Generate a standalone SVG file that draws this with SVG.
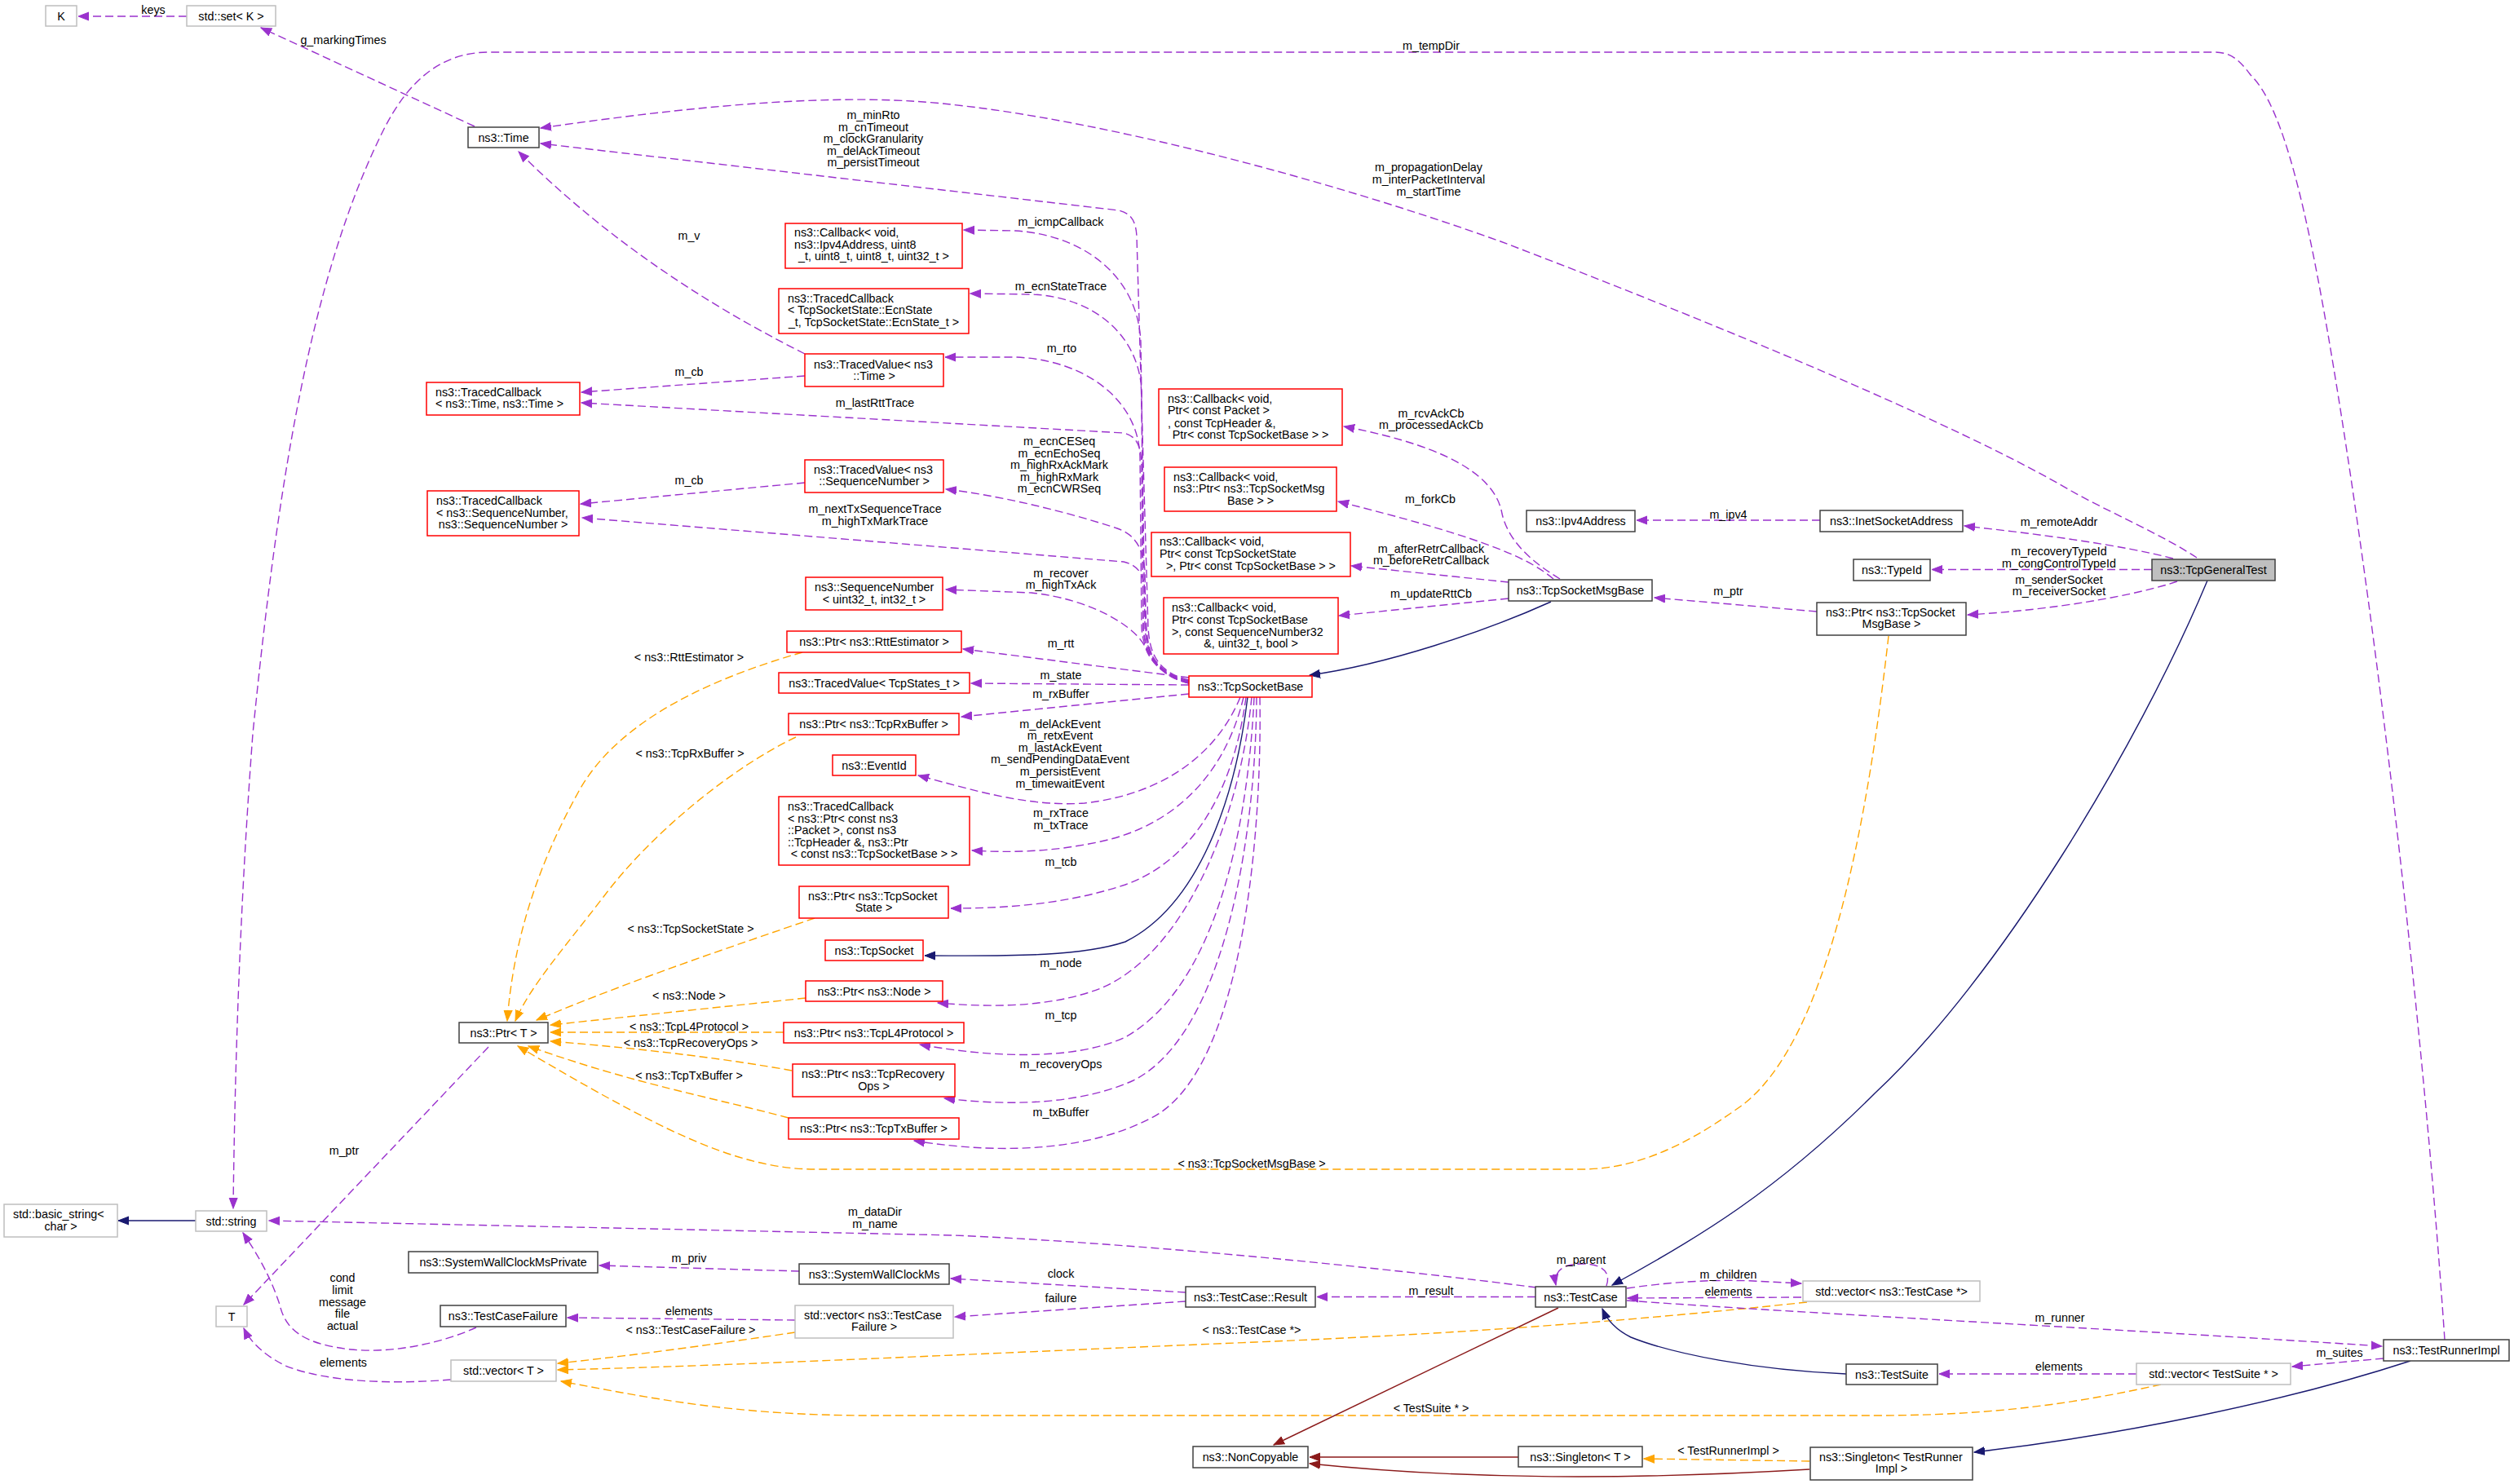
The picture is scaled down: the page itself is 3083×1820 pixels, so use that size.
<svg xmlns="http://www.w3.org/2000/svg" width="3083" height="1820" viewBox="0 0 3083 1820" xml:space="preserve">
<style>
.t{font-family:"Liberation Sans",Arial,sans-serif;font-size:14.3px;fill:#000}
.c{text-anchor:middle}
.red{fill:#fff;stroke:#ff0000;stroke-width:1.5}
.blk{fill:#fff;stroke:#404040;stroke-width:1.5}
.gry{fill:#fff;stroke:#bfbfbf;stroke-width:1.5}
.cur{fill:#bfbfbf;stroke:#404040;stroke-width:1.5}
.u{fill:none;stroke:#9a32cd;stroke-width:1.4;stroke-dasharray:10,5;marker-end:url(#ap)}
.o{fill:none;stroke:#ffa500;stroke-width:1.4;stroke-dasharray:10,5;marker-end:url(#ao)}
.n{fill:none;stroke:#191970;stroke-width:1.4;marker-end:url(#an)}
.r{fill:none;stroke:#8b1a1a;stroke-width:1.4;marker-end:url(#ar)}
</style>
<defs>
<marker id="ap" markerUnits="userSpaceOnUse" markerWidth="14" markerHeight="12" refX="13" refY="6" orient="auto" viewBox="0 0 14 12"><path d="M0,1 L13,6 L0,11 z" fill="#9a32cd" stroke="#9a32cd"/></marker>
<marker id="ao" markerUnits="userSpaceOnUse" markerWidth="14" markerHeight="12" refX="13" refY="6" orient="auto" viewBox="0 0 14 12"><path d="M0,1 L13,6 L0,11 z" fill="#ffa500" stroke="#ffa500"/></marker>
<marker id="an" markerUnits="userSpaceOnUse" markerWidth="14" markerHeight="12" refX="13" refY="6" orient="auto" viewBox="0 0 14 12"><path d="M0,1 L13,6 L0,11 z" fill="#191970" stroke="#191970"/></marker>
<marker id="ar" markerUnits="userSpaceOnUse" markerWidth="14" markerHeight="12" refX="13" refY="6" orient="auto" viewBox="0 0 14 12"><path d="M0,1 L13,6 L0,11 z" fill="#8b1a1a" stroke="#8b1a1a"/></marker>
</defs>
<rect width="3083" height="1820" fill="#fff"/>
<g id="edges">
<path class="u" d="M229,20 L96,20"/>
<path class="u" d="M582,155 L320,34"/>
<path class="u" d="M2998,1643 C2975,1300 2920,800 2860,440 C2830,260 2800,130 2760,92 C2745,72 2735,64 2715,64 L600,64 C540,64 500,100 470,160 C380,340 340,600 310,900 C295,1100 288,1300 286,1482"/>
<path class="u" d="M2694,684 C2650,655 2590,630 2540,602 C2400,520 2100,395 1840,296 C1600,210 1300,135 1118,124 C1000,117 850,130 663,157"/>
<path class="u" d="M1458,834 C1418,824 1410,800 1408,770 L1394,290 C1393,272 1388,262 1372,258 L663,176"/>
<path class="u" d="M1458,835 C1418,825 1406,800 1404,770 L1399,420 C1396,340 1330,288 1245,283 L1182,282"/>
<path class="u" d="M1458,836 C1418,826 1404,800 1402,770 L1400,480 C1397,410 1340,364 1265,361 L1190,360"/>
<path class="u" d="M1458,837 C1418,827 1402,800 1400,770 L1398,560 C1396,490 1330,441 1245,438 L1159,438"/>
<path class="u" d="M1458,836 C1416,826 1404,800 1402,770 L1400,570 C1399,548 1395,535 1378,531 L713,494"/>
<path class="u" d="M1458,838 C1416,828 1406,800 1405,770 L1404,700 C1402,670 1390,655 1370,648 C1300,625 1220,607 1160,600"/>
<path class="u" d="M1458,838 C1416,828 1408,800 1406,770 L1404,725 C1403,705 1396,693 1378,689 L714,635"/>
<path class="u" d="M1458,838 C1430,830 1412,815 1405,795 C1395,770 1340,735 1265,727 L1160,723"/>
<path class="u" d="M1458,831 L1181,796"/>
<path class="u" d="M1458,840 L1191,838"/>
<path class="u" d="M1458,851 L1179,879"/>
<path class="u" d="M1521,855 C1490,930 1420,975 1330,985 C1260,990 1190,968 1126,951"/>
<path class="u" d="M1525,855 C1500,960 1430,1015 1350,1032 C1290,1045 1240,1046 1192,1043"/>
<path class="u" d="M1528,855 C1510,990 1450,1060 1380,1085 C1310,1108 1240,1114 1166,1114"/>
<path class="n" d="M1530,855 C1515,980 1470,1110 1380,1155 C1320,1175 1220,1172 1134,1172"/>
<path class="u" d="M1535,855 C1520,1010 1450,1170 1350,1212 C1290,1235 1220,1236 1150,1230"/>
<path class="u" d="M1538,855 C1530,1020 1490,1210 1380,1272 C1320,1300 1220,1298 1128,1281"/>
<path class="u" d="M1541,855 C1540,1030 1500,1270 1390,1325 C1330,1352 1250,1358 1158,1347"/>
<path class="u" d="M1545,855 C1548,1040 1520,1320 1410,1372 C1340,1408 1240,1418 1121,1399"/>
<path class="u" d="M987,434 Q780,330 636,186"/>
<path class="u" d="M987,461 L713,481"/>
<path class="u" d="M987,592 L712,618"/>
<path class="u" d="M1913,710 C1880,690 1850,665 1842,630 C1835,590 1790,550 1648,523"/>
<path class="u" d="M1905,710 C1870,680 1800,655 1641,615"/>
<path class="u" d="M1850,714 L1657,694"/>
<path class="u" d="M1850,734 L1642,755"/>
<path class="n" d="M1902,738 C1820,775 1700,815 1606,828"/>
<path class="u" d="M2228,750 L2029,733"/>
<path class="u" d="M2232,638 L2007,638"/>
<path class="u" d="M2665,685 C2600,668 2500,655 2409,645"/>
<path class="u" d="M2639,698.5 L2369,698.5"/>
<path class="u" d="M2670,713 C2620,730 2520,748 2413,754"/>
<path class="n" d="M2707,712 C2620,920 2450,1200 2300,1340 C2180,1460 2080,1520 1977,1576"/>
<path class="o" d="M2316,780 C2280,1100 2220,1300 2130,1360 C2060,1410 2000,1434 1940,1434 L1000,1434 C900,1434 800,1380 635,1283"/>
<path class="o" d="M984,800 C880,830 760,880 710,970 C660,1060 630,1150 622,1252"/>
<path class="o" d="M976,904 C900,940 800,1020 740,1100 C690,1165 650,1210 632,1252"/>
<path class="o" d="M999,1126 C900,1160 780,1200 658,1251"/>
<path class="o" d="M988,1224 L675,1257"/>
<path class="o" d="M961,1266 L675,1266"/>
<path class="o" d="M971,1313 C900,1300 800,1287 675,1277"/>
<path class="o" d="M967,1371 C870,1345 780,1330 648,1283"/>
<path class="o" d="M975,1634 C880,1648 780,1662 684,1672"/>
<path class="o" d="M2216,1597 C2000,1620 1800,1635 1540,1646 C1200,1660 900,1675 684,1680"/>
<path class="o" d="M2650,1698 C2550,1720 2450,1736 2300,1736 L1070,1736 C900,1736 800,1715 688,1694"/>
<path class="o" d="M2219,1792 L2016,1789"/>
<path class="n" d="M240,1497 L145,1497"/>
<path class="n" d="M2264,1685 C2150,1680 2050,1660 2000,1640 C1980,1630 1970,1617 1965,1605"/>
<path class="n" d="M2956,1669 C2800,1720 2600,1760 2421,1781"/>
<path class="r" d="M1911,1604 L1562,1772"/>
<path class="r" d="M1862,1787 L1606,1787"/>
<path class="r" d="M2219,1802 C2000,1815 1800,1815 1606,1795"/>
<path class="u" d="M1884,1579 C1700,1555 1400,1525 1170,1515 L330,1497"/>
<path class="u" d="M980,1559 L735,1552"/>
<path class="u" d="M1454,1585 L1166,1568"/>
<path class="u" d="M1454,1596 L1171,1615"/>
<path class="u" d="M975,1619 L696,1616"/>
<path class="u" d="M584,1628 C540,1648 480,1660 430,1655 C370,1648 350,1630 343,1600 C330,1560 310,1530 298,1512"/>
<path class="u" d="M553,1692 C480,1698 400,1695 350,1675 C320,1660 305,1642 299,1629"/>
<path class="u" d="M599,1284 L299,1600"/>
<path class="u" d="M1883,1590.5 L1615,1590.5"/>
<path class="u" d="M1970,1577 C1976,1560 1965,1550 1940,1550 C1915,1550 1905,1560 1908,1576"/>
<path class="u" d="M1995,1580 C2050,1572 2100,1569 2150,1571 L2209,1574"/>
<path class="u" d="M2209,1591 L1996,1592"/>
<path class="u" d="M1995,1595 C2200,1610 2600,1630 2921,1651"/>
<path class="u" d="M2923,1666 L2811,1676"/>
<path class="u" d="M2620,1685 L2378,1685"/>
</g>
<g id="labels" class="t c">
<text x="188" y="17">keys</text>
<text x="421" y="54">g_markingTimes</text>
<text x="1755" y="61">m_tempDir</text>
<text x="1752" y="210">m_propagationDelay</text>
<text x="1752" y="224.5">m_interPacketInterval</text>
<text x="1752" y="239.5">m_startTime</text>
<text x="1071" y="146">m_minRto</text>
<text x="1071" y="160.5">m_cnTimeout</text>
<text x="1071" y="175">m_clockGranularity</text>
<text x="1071" y="189.5">m_delAckTimeout</text>
<text x="1071" y="204">m_persistTimeout</text>
<text x="845" y="294">m_v</text>
<text x="1301" y="277">m_icmpCallback</text>
<text x="1301" y="356">m_ecnStateTrace</text>
<text x="1302" y="432">m_rto</text>
<text x="845" y="461">m_cb</text>
<text x="1073" y="499">m_lastRttTrace</text>
<text x="1299" y="546">m_ecnCESeq</text>
<text x="1299" y="560.5">m_ecnEchoSeq</text>
<text x="1299" y="575">m_highRxAckMark</text>
<text x="1299" y="589.5">m_highRxMark</text>
<text x="1299" y="604">m_ecnCWRSeq</text>
<text x="845" y="594">m_cb</text>
<text x="1073" y="629">m_nextTxSequenceTrace</text>
<text x="1073" y="644">m_highTxMarkTrace</text>
<text x="1301" y="708">m_recover</text>
<text x="1301" y="722">m_highTxAck</text>
<text x="1301" y="794">m_rtt</text>
<text x="1301" y="833">m_state</text>
<text x="1301" y="856">m_rxBuffer</text>
<text x="1300" y="892.5">m_delAckEvent</text>
<text x="1300" y="907">m_retxEvent</text>
<text x="1300" y="921.5">m_lastAckEvent</text>
<text x="1300" y="936">m_sendPendingDataEvent</text>
<text x="1300" y="951">m_persistEvent</text>
<text x="1300" y="965.5">m_timewaitEvent</text>
<text x="1301" y="1002">m_rxTrace</text>
<text x="1301" y="1016.5">m_txTrace</text>
<text x="1301" y="1062">m_tcb</text>
<text x="1301" y="1185.5">m_node</text>
<text x="1301" y="1250">m_tcp</text>
<text x="1301" y="1309.5">m_recoveryOps</text>
<text x="1301" y="1369">m_txBuffer</text>
<text x="845" y="811">&lt; ns3::RttEstimator &gt;</text>
<text x="846" y="929">&lt; ns3::TcpRxBuffer &gt;</text>
<text x="847" y="1143.5">&lt; ns3::TcpSocketState &gt;</text>
<text x="845" y="1225.5">&lt; ns3::Node &gt;</text>
<text x="845" y="1263.5">&lt; ns3::TcpL4Protocol &gt;</text>
<text x="847" y="1284">&lt; ns3::TcpRecoveryOps &gt;</text>
<text x="845" y="1324">&lt; ns3::TcpTxBuffer &gt;</text>
<text x="1535" y="1432">&lt; ns3::TcpSocketMsgBase &gt;</text>
<text x="1755" y="511.5">m_rcvAckCb</text>
<text x="1755" y="525.5">m_processedAckCb</text>
<text x="1754" y="617">m_forkCb</text>
<text x="1755" y="677.5">m_afterRetrCallback</text>
<text x="1755" y="692">m_beforeRetrCallback</text>
<text x="1755" y="733">m_updateRttCb</text>
<text x="2119.5" y="636">m_ipv4</text>
<text x="2119.5" y="730">m_ptr</text>
<text x="2525" y="644.5">m_remoteAddr</text>
<text x="2525" y="680.5">m_recoveryTypeId</text>
<text x="2525" y="695.5">m_congControlTypeId</text>
<text x="2525" y="715.5">m_senderSocket</text>
<text x="2525" y="730">m_receiverSocket</text>
<text x="422" y="1416">m_ptr</text>
<text x="420" y="1572">cond</text>
<text x="420" y="1587">limit</text>
<text x="420" y="1602">message</text>
<text x="420" y="1616">file</text>
<text x="420" y="1631">actual</text>
<text x="421" y="1676">elements</text>
<text x="1073" y="1491">m_dataDir</text>
<text x="1073" y="1505.5">m_name</text>
<text x="845" y="1548">m_priv</text>
<text x="1301" y="1567">clock</text>
<text x="1301" y="1597">failure</text>
<text x="845" y="1612.5">elements</text>
<text x="847" y="1636">&lt; ns3::TestCaseFailure &gt;</text>
<text x="1535" y="1636">&lt; ns3::TestCase *&gt;</text>
<text x="1755" y="1732">&lt; TestSuite * &gt;</text>
<text x="1939" y="1550">m_parent</text>
<text x="1755" y="1588">m_result</text>
<text x="2119.5" y="1568">m_children</text>
<text x="2119.5" y="1588.5">elements</text>
<text x="2526" y="1621">m_runner</text>
<text x="2869" y="1664">m_suites</text>
<text x="2525" y="1681">elements</text>
<text x="2119.5" y="1784">&lt; TestRunnerImpl &gt;</text>
</g>
<g id="n_K"><rect class="gry" x="56" y="7" width="38" height="25"/><text class="t c" x="75" y="24.5">K</text></g>
<g id="n_set"><rect class="gry" x="229" y="7" width="109" height="25"/><text class="t c" x="283.5" y="24.5">std::set&lt; K &gt;</text></g>
<g id="n_time"><rect class="blk" x="574" y="156" width="87" height="25"/><text class="t c" x="617.5" y="173.5">ns3::Time</text></g>
<g id="n_tcb_time"><rect class="red" x="523" y="469" width="188" height="40"/><text class="t" x="534" y="485.5">ns3::TracedCallback</text><text class="t" x="534" y="500">&lt; ns3::Time, ns3::Time &gt;</text></g>
<g id="n_tcb_seq"><rect class="red" x="524" y="602" width="186" height="55"/><text class="t" x="535" y="619">ns3::TracedCallback</text><text class="t" x="535" y="633.5">&lt; ns3::SequenceNumber,</text><text class="t c" x="617" y="647.5"> ns3::SequenceNumber &gt;</text></g>
<g id="n_cb_ipv4"><rect class="red" x="963" y="274" width="217" height="55"/><text class="t" x="974" y="290">ns3::Callback&lt; void,</text><text class="t" x="974" y="305"> ns3::Ipv4Address, uint8</text><text class="t c" x="1071.5" y="319">_t, uint8_t, uint8_t, uint32_t &gt;</text></g>
<g id="n_tcb_ecn"><rect class="red" x="955" y="354" width="233" height="55"/><text class="t" x="966" y="371">ns3::TracedCallback</text><text class="t" x="966" y="385">&lt; TcpSocketState::EcnState</text><text class="t c" x="1071.5" y="399.5">_t, TcpSocketState::EcnState_t &gt;</text></g>
<g id="n_tv_time"><rect class="red" x="987" y="434" width="170" height="40"/><text class="t" x="998" y="451.5">ns3::TracedValue&lt; ns3</text><text class="t c" x="1072" y="465.5">::Time &gt;</text></g>
<g id="n_tv_seq"><rect class="red" x="987" y="564" width="170" height="40"/><text class="t" x="998" y="580.5">ns3::TracedValue&lt; ns3</text><text class="t c" x="1072" y="595">::SequenceNumber &gt;</text></g>
<g id="n_seqnum"><rect class="red" x="988" y="708" width="168" height="40"/><text class="t" x="999" y="724.5">ns3::SequenceNumber</text><text class="t c" x="1072" y="739.5">&lt; uint32_t, int32_t &gt;</text></g>
<g id="n_ptr_rtt"><rect class="red" x="965" y="774" width="214" height="26"/><text class="t c" x="1072" y="792">ns3::Ptr&lt; ns3::RttEstimator &gt;</text></g>
<g id="n_tv_states"><rect class="red" x="955" y="825" width="234" height="25"/><text class="t c" x="1072" y="842.5">ns3::TracedValue&lt; TcpStates_t &gt;</text></g>
<g id="n_ptr_rx"><rect class="red" x="967" y="875" width="209" height="26"/><text class="t c" x="1071.5" y="893">ns3::Ptr&lt; ns3::TcpRxBuffer &gt;</text></g>
<g id="n_eventid"><rect class="red" x="1021" y="926" width="102" height="25"/><text class="t c" x="1072" y="943.5">ns3::EventId</text></g>
<g id="n_tcb_pkt"><rect class="red" x="955" y="977" width="234" height="84"/><text class="t" x="966" y="994">ns3::TracedCallback</text><text class="t" x="966" y="1008.5">&lt; ns3::Ptr&lt; const ns3</text><text class="t" x="966" y="1023">::Packet &gt;, const ns3</text><text class="t" x="966" y="1037.5">::TcpHeader &amp;, ns3::Ptr</text><text class="t c" x="1072" y="1052">&lt; const ns3::TcpSocketBase &gt; &gt;</text></g>
<g id="n_ptr_tss"><rect class="red" x="980" y="1087" width="183" height="39"/><text class="t" x="991" y="1103.5">ns3::Ptr&lt; ns3::TcpSocket</text><text class="t c" x="1071.5" y="1118">State &gt;</text></g>
<g id="n_tcpsocket"><rect class="red" x="1012" y="1153" width="120" height="25"/><text class="t c" x="1072" y="1170.5">ns3::TcpSocket</text></g>
<g id="n_ptr_node"><rect class="red" x="988" y="1203" width="168" height="25"/><text class="t c" x="1072" y="1220.5">ns3::Ptr&lt; ns3::Node &gt;</text></g>
<g id="n_ptr_l4"><rect class="red" x="961" y="1254" width="221" height="25"/><text class="t c" x="1071.5" y="1271.5">ns3::Ptr&lt; ns3::TcpL4Protocol &gt;</text></g>
<g id="n_ptr_rec"><rect class="red" x="972" y="1305" width="199" height="40"/><text class="t" x="983" y="1321.5">ns3::Ptr&lt; ns3::TcpRecovery</text><text class="t c" x="1071.5" y="1336.5">Ops &gt;</text></g>
<g id="n_ptr_tx"><rect class="red" x="967" y="1371" width="209" height="26"/><text class="t c" x="1071.5" y="1389">ns3::Ptr&lt; ns3::TcpTxBuffer &gt;</text></g>
<g id="n_tsb"><rect class="red" x="1458" y="829" width="151" height="26"/><text class="t c" x="1533.5" y="847">ns3::TcpSocketBase</text></g>
<g id="n_cb_pkt"><rect class="red" x="1421" y="477" width="225" height="69"/><text class="t" x="1432" y="493.5">ns3::Callback&lt; void,</text><text class="t" x="1432" y="508"> Ptr&lt; const Packet &gt;</text><text class="t" x="1432" y="523.5">, const TcpHeader &amp;,</text><text class="t c" x="1533.5" y="537.5"> Ptr&lt; const TcpSocketBase &gt; &gt;</text></g>
<g id="n_cb_msg"><rect class="red" x="1428" y="573" width="211" height="54"/><text class="t" x="1439" y="589.5">ns3::Callback&lt; void,</text><text class="t" x="1439" y="604"> ns3::Ptr&lt; ns3::TcpSocketMsg</text><text class="t c" x="1533.5" y="619">Base &gt; &gt;</text></g>
<g id="n_cb_tss"><rect class="red" x="1412" y="653" width="244" height="54"/><text class="t" x="1422" y="669">ns3::Callback&lt; void,</text><text class="t" x="1422" y="683.5"> Ptr&lt; const TcpSocketState</text><text class="t c" x="1534" y="699"> &gt;, Ptr&lt; const TcpSocketBase &gt; &gt;</text></g>
<g id="n_cb_rtt"><rect class="red" x="1427" y="733" width="214" height="69"/><text class="t" x="1437" y="749.5">ns3::Callback&lt; void,</text><text class="t" x="1437" y="764.5"> Ptr&lt; const TcpSocketBase</text><text class="t" x="1437" y="779.5"> &gt;, const SequenceNumber32</text><text class="t c" x="1534" y="794">&amp;, uint32_t, bool &gt;</text></g>
<g id="n_msgbase"><rect class="blk" x="1850" y="711" width="176" height="26"/><text class="t c" x="1938" y="729">ns3::TcpSocketMsgBase</text></g>
<g id="n_ipv4"><rect class="blk" x="1872" y="626" width="133" height="26"/><text class="t c" x="1938.5" y="644">ns3::Ipv4Address</text></g>
<g id="n_inet"><rect class="blk" x="2232" y="626" width="175" height="26"/><text class="t c" x="2319.5" y="644">ns3::InetSocketAddress</text></g>
<g id="n_typeid"><rect class="blk" x="2273" y="686" width="94" height="26"/><text class="t c" x="2320" y="704">ns3::TypeId</text></g>
<g id="n_ptr_msg"><rect class="blk" x="2228" y="739" width="183" height="40"/><text class="t" x="2239" y="755.5">ns3::Ptr&lt; ns3::TcpSocket</text><text class="t c" x="2319.5" y="770">MsgBase &gt;</text></g>
<g id="n_general"><rect class="cur" x="2639" y="686" width="151" height="26"/><text class="t c" x="2714.5" y="704">ns3::TcpGeneralTest</text></g>
<g id="n_string"><rect class="gry" x="240" y="1485" width="87" height="25"/><text class="t c" x="283.5" y="1502.5">std::string</text></g>
<g id="n_basic"><rect class="gry" x="5" y="1477" width="139" height="40"/><text class="t" x="16" y="1493.5">std::basic_string&lt;</text><text class="t c" x="74.5" y="1508.5">char &gt;</text></g>
<g id="n_ptrT"><rect class="blk" x="563" y="1254" width="109" height="25"/><text class="t c" x="617.5" y="1271.5">ns3::Ptr&lt; T &gt;</text></g>
<g id="n_T"><rect class="gry" x="265" y="1602" width="38" height="25"/><text class="t c" x="284" y="1619.5">T</text></g>
<g id="n_swcmp"><rect class="blk" x="501" y="1535" width="232" height="26"/><text class="t c" x="617" y="1553">ns3::SystemWallClockMsPrivate</text></g>
<g id="n_tcf"><rect class="blk" x="540" y="1601" width="154" height="26"/><text class="t c" x="617" y="1619">ns3::TestCaseFailure</text></g>
<g id="n_vecT"><rect class="gry" x="553" y="1668" width="129" height="26"/><text class="t c" x="617.5" y="1686">std::vector&lt; T &gt;</text></g>
<g id="n_swcm"><rect class="blk" x="980" y="1550" width="184" height="25"/><text class="t c" x="1072" y="1567.5">ns3::SystemWallClockMs</text></g>
<g id="n_vec_tcf"><rect class="gry" x="975" y="1601" width="194" height="40"/><text class="t" x="986" y="1617.5">std::vector&lt; ns3::TestCase</text><text class="t c" x="1072" y="1632">Failure &gt;</text></g>
<g id="n_result"><rect class="blk" x="1454" y="1578" width="159" height="25"/><text class="t c" x="1533.5" y="1595.5">ns3::TestCase::Result</text></g>
<g id="n_testcase"><rect class="blk" x="1883" y="1578" width="111" height="25"/><text class="t c" x="1938.5" y="1595.5">ns3::TestCase</text></g>
<g id="n_vec_tc"><rect class="gry" x="2211" y="1571" width="217" height="25"/><text class="t c" x="2319.5" y="1588.5">std::vector&lt; ns3::TestCase *&gt;</text></g>
<g id="n_testsuite"><rect class="blk" x="2264" y="1673" width="112" height="25"/><text class="t c" x="2320" y="1690.5">ns3::TestSuite</text></g>
<g id="n_noncopy"><rect class="blk" x="1463" y="1774" width="141" height="26"/><text class="t c" x="1533.5" y="1792">ns3::NonCopyable</text></g>
<g id="n_singT"><rect class="blk" x="1862" y="1774" width="152" height="25"/><text class="t c" x="1938" y="1791.5">ns3::Singleton&lt; T &gt;</text></g>
<g id="n_singR"><rect class="blk" x="2220" y="1775" width="199" height="40"/><text class="t" x="2231" y="1791.5">ns3::Singleton&lt; TestRunner</text><text class="t c" x="2319.5" y="1806">Impl &gt;</text></g>
<g id="n_runner"><rect class="blk" x="2923" y="1643" width="154" height="26"/><text class="t c" x="3000" y="1661">ns3::TestRunnerImpl</text></g>
<g id="n_vec_ts"><rect class="gry" x="2620" y="1672" width="189" height="26"/><text class="t c" x="2714.5" y="1690">std::vector&lt; TestSuite * &gt;</text></g>
</svg>
